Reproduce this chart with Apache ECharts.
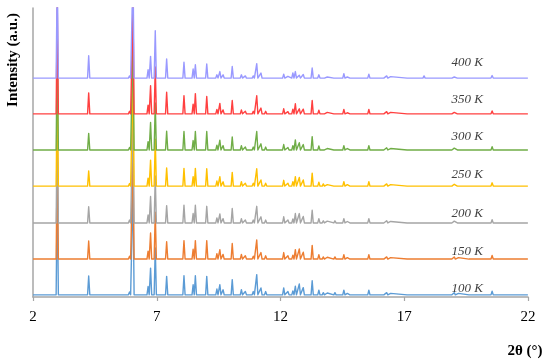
<!DOCTYPE html>
<html>
<head>
<meta charset="utf-8">
<script src="https://cdn.jsdelivr.net/npm/echarts@6/dist/echarts.min.js"></script>
<style>html,body{margin:0;padding:0;background:#fff}#c{width:550px;height:363px}</style>
</head>
<body>
<div id="c"></div>
<script>
// 2θ positions of the diffraction peaks (shared by all patterns)
var peakPos = [2.98,4.25,4.64,5.20,5.90,6.04,6.65,6.75,6.94,7.40,8.10,8.47,8.56,9.02,9.43,9.55,9.68,10.05,10.42,10.58,10.90,11.04,11.21,11.40,11.85,12.13,12.30,12.50,12.60,12.76,12.92,13.28,13.55,13.73,13.89,14.20,14.56,14.70,14.85,15.14,15.57,15.78,16.13,16.29,16.45,17.16,17.37,17.80,18.00,18.31,18.88,19.02,19.19,19.66,20.55,21.20,21.40,21.68,21.95];
// peak heights above each pattern's baseline
var i100 = [3.0,0.52,0.03,0.03,0.08,3.0,0.23,0.74,1.30,0.51,0.53,0.28,0.53,0.51,0.16,0.28,0.14,0.42,0.14,0.09,0.09,0.56,0.19,0.09,0.05,0.19,0.09,0.11,0.24,0.30,0.20,0.39,0.13,0.06,0.05,0.06,0.13,0.04,0.04,0.04,0.13,0.04,0.05,0.06,0.04,0.03,0.03,0.05,0.02,0.02,0.04,0.06,0.04,0.02,0.10,0.02,0.02,0.02,0.04];
var i150 = [3.0,0.50,0.03,0.03,0.08,3.0,0.22,0.72,1.30,0.48,0.51,0.27,0.51,0.51,0.15,0.26,0.13,0.43,0.13,0.09,0.08,0.53,0.18,0.09,0.05,0.18,0.09,0.11,0.26,0.28,0.19,0.38,0.12,0.06,0.05,0.06,0.12,0.04,0.04,0.04,0.12,0.04,0.05,0.06,0.04,0.03,0.03,0.05,0.02,0.02,0.04,0.06,0.04,0.02,0.10,0.02,0.02,0.02,0.04];
var i200 = [3.0,0.45,0.03,0.03,0.08,3.0,0.22,0.73,1.30,0.48,0.49,0.26,0.49,0.46,0.14,0.25,0.12,0.40,0.12,0.08,0.08,0.46,0.17,0.08,0.05,0.17,0.08,0.11,0.26,0.26,0.18,0.35,0.12,0.06,0.05,0.06,0.12,0.04,0.04,0.04,0.12,0.04,0.05,0.06,0.04,0.03,0.03,0.05,0.02,0.02,0.04,0.05,0.04,0.02,0.09,0.02,0.02,0.02,0.04];
var i250 = [3.0,0.42,0.03,0.03,0.07,3.0,0.22,0.72,1.30,0.50,0.49,0.26,0.49,0.48,0.14,0.26,0.12,0.38,0.12,0.08,0.08,0.48,0.17,0.08,0.05,0.16,0.08,0.12,0.26,0.24,0.17,0.36,0.11,0.06,0.04,0.05,0.12,0.04,0.04,0.04,0.12,0.04,0.05,0.06,0.04,0.03,0.03,0.05,0.02,0.02,0.04,0.05,0.04,0.02,0.09,0.02,0.02,0.02,0.04];
var i300 = [3.0,0.46,0.03,0.03,0.07,3.0,0.23,0.76,1.30,0.52,0.51,0.26,0.51,0.51,0.13,0.27,0.12,0.36,0.12,0.08,0.08,0.51,0.17,0.08,0.04,0.15,0.07,0.12,0.28,0.20,0.15,0.37,0.11,0.05,0.04,0.05,0.12,0.04,0.04,0.04,0.12,0.04,0.04,0.06,0.04,0.03,0.03,0.05,0.02,0.02,0.04,0.05,0.03,0.02,0.09,0.02,0.02,0.02,0.04];
var i350 = [3.0,0.58,0.03,0.03,0.07,3.0,0.24,0.78,1.30,0.60,0.50,0.27,0.56,0.48,0.12,0.29,0.11,0.37,0.11,0.07,0.07,0.50,0.16,0.07,0.04,0.14,0.06,0.13,0.28,0.14,0.13,0.37,0.10,0.05,0.04,0.04,0.12,0.03,0.03,0.03,0.12,0.03,0.04,0.06,0.04,0.02,0.03,0.05,0.02,0.02,0.04,0.04,0.03,0.02,0.08,0.02,0.02,0.02,0.04];
var i400 = [3.0,0.62,0.03,0.03,0.06,3.0,0.23,0.60,1.31,0.53,0.44,0.25,0.37,0.39,0.09,0.18,0.09,0.32,0.09,0.06,0.06,0.40,0.14,0.05,0.03,0.11,0.05,0.14,0.18,0.08,0.10,0.28,0.09,0.05,0.03,0.03,0.12,0.03,0.03,0.03,0.11,0.03,0.03,0.06,0.04,0.02,0.03,0.06,0.03,0.02,0.05,0.03,0.02,0.02,0.07,0.02,0.02,0.02,0.04];
// vertical offsets of the stacked patterns
var offsets = [0.06,1.05,2.05,3.07,4.07,5.07,6.06];
var seriesNames = ['100 K','150 K','200 K','250 K','300 K','350 K','400 K'];
var seriesData = [i100,i150,i200,i250,i300,i350,i400];
// label placement (2θ and height above each baseline)
var labelX = 19.54;
var labelDy = [0.17,0.20,0.25,0.31,0.36,0.39,0.43];
var colors = ['#5B9BD5','#ED7D31','#A5A5A5','#FFC000','#70AD47','#FF4040','#9999FF'];

function buildLine(heights, off){
  var w = 0.045, pts = [[2, off]];
  for (var i = 0; i < peakPos.length; i++){
    var p = peakPos[i];
    pts.push([p - w, off]);
    pts.push([p, off + heights[i]]);
    pts.push([p + w, off]);
  }
  pts.push([22, off]);
  pts.sort(function(a,b){return a[0]-b[0];});
  return pts;
}

var series = seriesData.map(function(h, k){
  return {
    name: seriesNames[k], type: 'line', data: buildLine(h, offsets[k]),
    showSymbol: false, symbol: 'none', smooth: false, clip: true,
    lineStyle: {color: colors[k], width: 1.4, join: 'round'}, itemStyle: {color: colors[k]},
    animation: false, z: 2 + k,
    markPoint: {
      symbol: 'circle', symbolSize: 0, silent: true, animation: false,
      data: [{coord: [labelX, offsets[k] + labelDy[k]], value: seriesNames[k]}],
      label: {show: true, position: 'inside', formatter: seriesNames[k],
        fontFamily: 'Liberation Serif', fontStyle: 'italic', fontSize: 13, color: '#404040'}
    }
  };
});

var chart = echarts.init(document.getElementById('c'), null, {renderer: 'canvas'});
chart.setOption({
  animation: false,
  grid: {left: 33, right: 22, top: 8, bottom: 66, containLabel: false},
  xAxis: {
    type: 'value', min: 2, max: 22, interval: 5,
    axisLine: {show: true, lineStyle: {color: '#A6A6A6', width: 1.5}},
    axisTick: {show: true, length: 4, lineStyle: {color: '#A6A6A6', width: 1.2}},
    axisLabel: {fontFamily: 'Liberation Serif', fontSize: 15, color: '#000', margin: 13},
    splitLine: {show: false}
  },
  yAxis: {
    type: 'value', min: 0, max: 8,
    axisLine: {show: true, lineStyle: {color: '#A6A6A6', width: 1.5}},
    axisTick: {show: false}, axisLabel: {show: false}, splitLine: {show: false}
  },
  graphic: [
    {type: 'text', x: 13, y: 60, rotation: Math.PI/2,
     style: {text: 'Intensity (a.u.)', fontFamily: 'Liberation Serif', fontWeight: 'bold', fontSize: 15,
       fill: '#000', textAlign: 'center', textVerticalAlign: 'middle'}},
    {type: 'text', x: 525, y: 351,
     style: {text: '2θ (°)', fontFamily: 'Liberation Serif', fontWeight: 'bold', fontSize: 15,
       fill: '#000', textAlign: 'center', textVerticalAlign: 'middle'}}
  ],
  series: series
});
</script>
</body>
</html>
